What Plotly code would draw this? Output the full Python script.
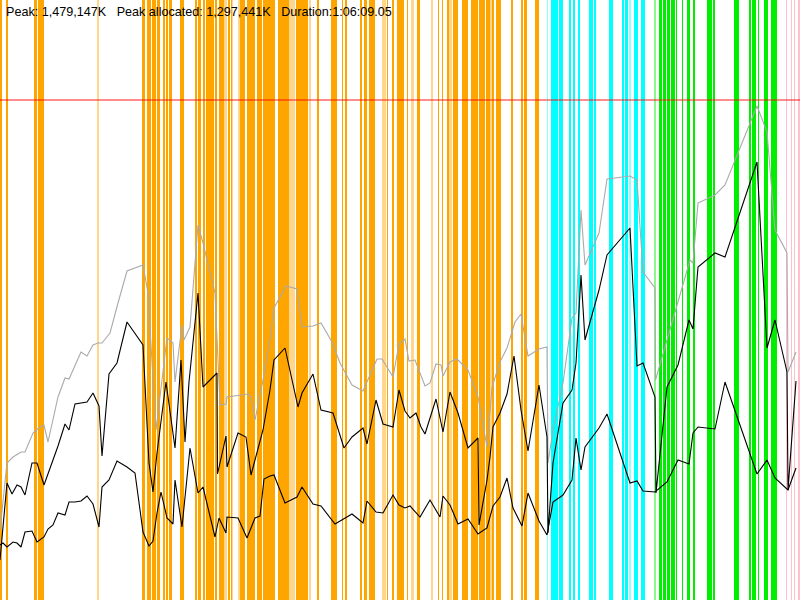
import plotly.graph_objects as go

# ---- data (x: time units across run 0..800, y: memory units 0..600) ----
gray_x = [0, 7, 13, 21, 25, 33, 40, 44, 48, 53, 58, 65, 69, 81, 87, 93, 98, 102, 110, 118, 127, 143, 148, 156, 162, 167, 173, 175, 182, 184, 190, 198, 203, 215, 220, 226, 227, 248, 251, 255, 263, 270,
          274, 286, 297, 302, 313, 321, 332, 340, 352, 363, 377, 382, 393, 399, 405, 409, 415, 425, 430, 436, 441, 443, 450, 457, 468, 478, 487, 492, 500, 507, 515, 521, 528, 539,
          547, 548, 553, 563, 572, 576, 581, 585, 599, 607, 630, 637, 643, 655, 655.5, 690, 693, 698, 715, 725, 757, 767, 775, 787, 788, 796]
gray_px = [530, 463, 457, 452, 452, 433, 427, 425, 442, 420, 397, 378, 379, 352, 356, 345, 343, 343, 333, 303, 271, 265, 293, 430, 377, 338, 343, 382, 325, 340, 327, 225, 243, 293, 405, 404, 397, 394, 397, 420, 380, 340,
           308, 286, 289, 327, 326, 323, 342, 363, 385, 391, 359, 359, 377, 344, 339, 361, 360, 386, 383, 364, 365, 376, 362, 359, 370, 397, 447, 387, 362, 348, 322, 314, 356, 349,
           347, 463, 430, 383, 318, 313, 210, 265, 233, 179, 176, 180, 272, 288, 380, 260, 263, 203, 195, 185, 106, 132, 230, 253, 372, 352]

upper_x = [0, 7, 12, 17, 21, 25, 32, 37, 44, 58, 65, 69, 75, 82, 87, 93, 99, 102, 109, 117, 127, 143, 147, 149, 153, 157, 166, 175, 181, 185, 189, 198, 203, 217, 217.5, 226, 227, 238, 246, 251, 263, 270,
           274, 285, 298, 302, 313, 321, 333, 344, 352, 363, 367, 376, 383, 393, 399, 405, 410, 416, 421, 425, 436, 443, 450, 458, 468, 478, 479, 487, 490, 493, 500, 507, 514, 521, 528, 539,
           547, 548, 553, 563, 572, 576, 581, 585, 599, 607, 630, 637, 643, 655, 656, 667, 678, 689, 693, 698, 715, 725, 757, 767, 775, 787, 788, 796]
upper_px = [560, 483, 494, 485, 487, 495, 463, 463, 485, 446, 424, 430, 404, 403, 402, 393, 406, 456, 374, 363, 322, 345, 433, 463, 492, 453, 382, 448, 360, 442, 382, 293, 387, 373, 474, 436, 467, 433, 437, 475, 430, 390,
            360, 348, 407, 393, 374, 410, 413, 448, 437, 428, 444, 400, 424, 427, 390, 411, 418, 413, 427, 434, 399, 432, 392, 413, 448, 438, 525, 480, 457, 427, 413, 394, 356, 410, 451, 385,
            437, 533, 463, 403, 390, 363, 275, 340, 290, 255, 228, 366, 363, 397, 493, 387, 365, 320, 329, 267, 253, 257, 162, 348, 320, 372, 490, 381]

lower_x = [0, 3, 7, 13, 17, 21, 25, 32, 37, 44, 48, 53, 58, 65, 69, 75, 81, 87, 93, 99, 102, 109, 117, 127, 135, 143, 149, 153, 157, 161, 167, 173, 175, 182, 190, 198, 203, 215, 219, 226, 227, 238, 247, 255, 260, 264, 270,
           274, 285, 297, 302, 313, 321, 335, 352, 363, 367, 376, 383, 393, 399, 405, 410, 420, 430, 440, 443, 450, 458, 468, 478, 487, 493, 500, 507, 513, 522, 528, 539,
           547, 553, 563, 572, 576, 581, 585, 599, 607, 630, 637, 643, 655, 667, 678, 689, 693, 698, 715, 725, 757, 767, 775, 788, 796]
lower_px = [545, 543, 547, 542, 543, 547, 532, 531, 542, 537, 529, 525, 513, 515, 502, 502, 501, 496, 504, 527, 487, 480, 461, 467, 473, 532, 546, 541, 513, 492, 518, 524, 480, 527, 448, 493, 487, 537, 518, 533, 517, 518, 538, 518, 516, 479, 476,
            475, 503, 497, 487, 504, 506, 524, 514, 523, 501, 512, 513, 495, 505, 508, 506, 517, 500, 517, 496, 505, 524, 519, 534, 528, 506, 497, 478, 508, 526, 493, 521,
            535, 502, 495, 480, 438, 470, 447, 428, 414, 483, 481, 491, 492, 482, 460, 464, 433, 427, 429, 382, 474, 460, 478, 490, 468]

# GC events: start, end, kind, strong(1) / faint(0)
ev_start = [0, 6, 34, 37.5, 97, 142, 147, 152, 157, 163, 166, 169, 180, 195, 198, 203, 206, 215, 219, 224, 228, 231, 232, 238, 240, 247, 257, 263, 278, 289, 296, 309, 317, 331, 335.5, 342, 345, 360, 364, 369, 382, 387, 392, 397, 407, 411, 417, 431, 438, 442, 447, 449, 453, 462, 471, 479, 486, 490, 492, 496, 511, 521, 524, 535,
            547, 551, 558.5, 562, 569, 573, 578, 589, 593.5, 609, 622, 624.5, 629, 634, 641,
            654, 659, 663, 667, 670.5, 676, 682, 687, 693, 707, 713, 734, 749, 752, 758, 764, 766.5, 771,
            786, 791, 794, 798]
ev_end = [2, 8, 37, 44, 99, 145, 151, 156, 160, 165, 168, 172, 184, 197, 201, 205, 214, 217, 224, 227, 230, 232, 233, 240, 245, 255, 262, 275, 289, 295, 308, 311, 319, 335, 337, 343, 347, 362, 367, 375, 386, 388, 394, 404, 408, 414, 420, 433, 439, 443, 449, 452, 458, 468, 478, 485, 490, 492, 494, 501, 513, 523, 527, 539,
          548, 558, 562, 563, 571, 575, 580, 593, 596, 613, 624, 628, 631, 638, 645,
          656, 662, 666, 670, 675, 677, 683, 690, 695, 712, 715, 739, 751, 756, 759, 766, 768, 777,
          787, 792, 795, 800]
ev_kind = ["young"] * 64 + ["mixed"] * 15 + ["full"] * 18 + ["other"] * 4
ev_strong = [1, 1, 1, 1, 0, 1, 1, 1, 1, 1, 1, 1, 1, 1, 1, 1, 1, 1, 1, 0, 1, 1, 0, 0, 1, 1, 1, 1, 1, 0, 1, 0, 1, 1, 1, 1, 1, 1, 1, 1, 0, 1, 1, 1, 1, 0, 1, 0, 1, 1, 1, 0, 1, 1, 1, 1, 1, 0, 1, 1, 1, 1, 1, 1,
             0, 1, 1, 1, 1, 1, 1, 1, 1, 1, 1, 1, 0, 1, 1,
             0, 1, 1, 1, 1, 1, 1, 1, 1, 1, 1, 1, 1, 1, 1, 1, 1, 1,
             1, 1, 1, 1]

PEAK_LEVEL = 500  # red limit line
TITLE = "Peak: 1,479,147K   Peak allocated: 1,297,441K   Duration:1:06:09.05"

# ---- styles ----
kind_rgb = {"young": (255, 165, 0), "mixed": (0, 255, 255), "full": (0, 238, 0), "other": (255, 192, 203)}

def to_val(px):
    return [600 - p for p in px]

colors = []
for k, s in zip(ev_kind, ev_strong):
    r, g, b = kind_rgb[k]
    a = 1.0 if s else 0.45
    colors.append(f"rgba({r},{g},{b},{a})")

fig = go.Figure()
fig.add_trace(go.Bar(
    x=[(a + b) / 2 for a, b in zip(ev_start, ev_end)],
    y=[600] * len(ev_start),
    width=[b - a for a, b in zip(ev_start, ev_end)],
    base=0,
    marker=dict(color=colors, line=dict(width=0)),
    hoverinfo="skip",
))
fig.add_trace(go.Scatter(x=[0, 800], y=[PEAK_LEVEL, PEAK_LEVEL], mode="lines",
                         line=dict(color="rgba(255,0,0,0.6)", width=1.5)))
fig.add_trace(go.Scatter(x=gray_x, y=to_val(gray_px), mode="lines",
                         line=dict(color="#aaaaaa", width=1.1)))
fig.add_trace(go.Scatter(x=upper_x, y=to_val(upper_px), mode="lines",
                         line=dict(color="#000000", width=1.1)))
fig.add_trace(go.Scatter(x=lower_x, y=to_val(lower_px), mode="lines",
                         line=dict(color="#000000", width=1.1)))

fig.add_annotation(text=TITLE, xref="paper", yref="paper", x=0.005, y=1 - 12 / 600,
                   xanchor="left", yanchor="middle", showarrow=False,
                   font=dict(family="Liberation Sans, Arial", size=12.6, color="#000"))

fig.update_layout(
    width=800, height=600, margin=dict(l=0, r=0, t=0, b=0),
    paper_bgcolor="white", plot_bgcolor="white", showlegend=False,
    xaxis=dict(range=[0, 800], visible=False, fixedrange=True),
    yaxis=dict(range=[0, 600], visible=False, fixedrange=True),
    bargap=0,
)
fig.write_html("out.html", config={"displayModeBar": False},
               post_script="document.body.style.margin='0';document.body.style.overflow='hidden';")
